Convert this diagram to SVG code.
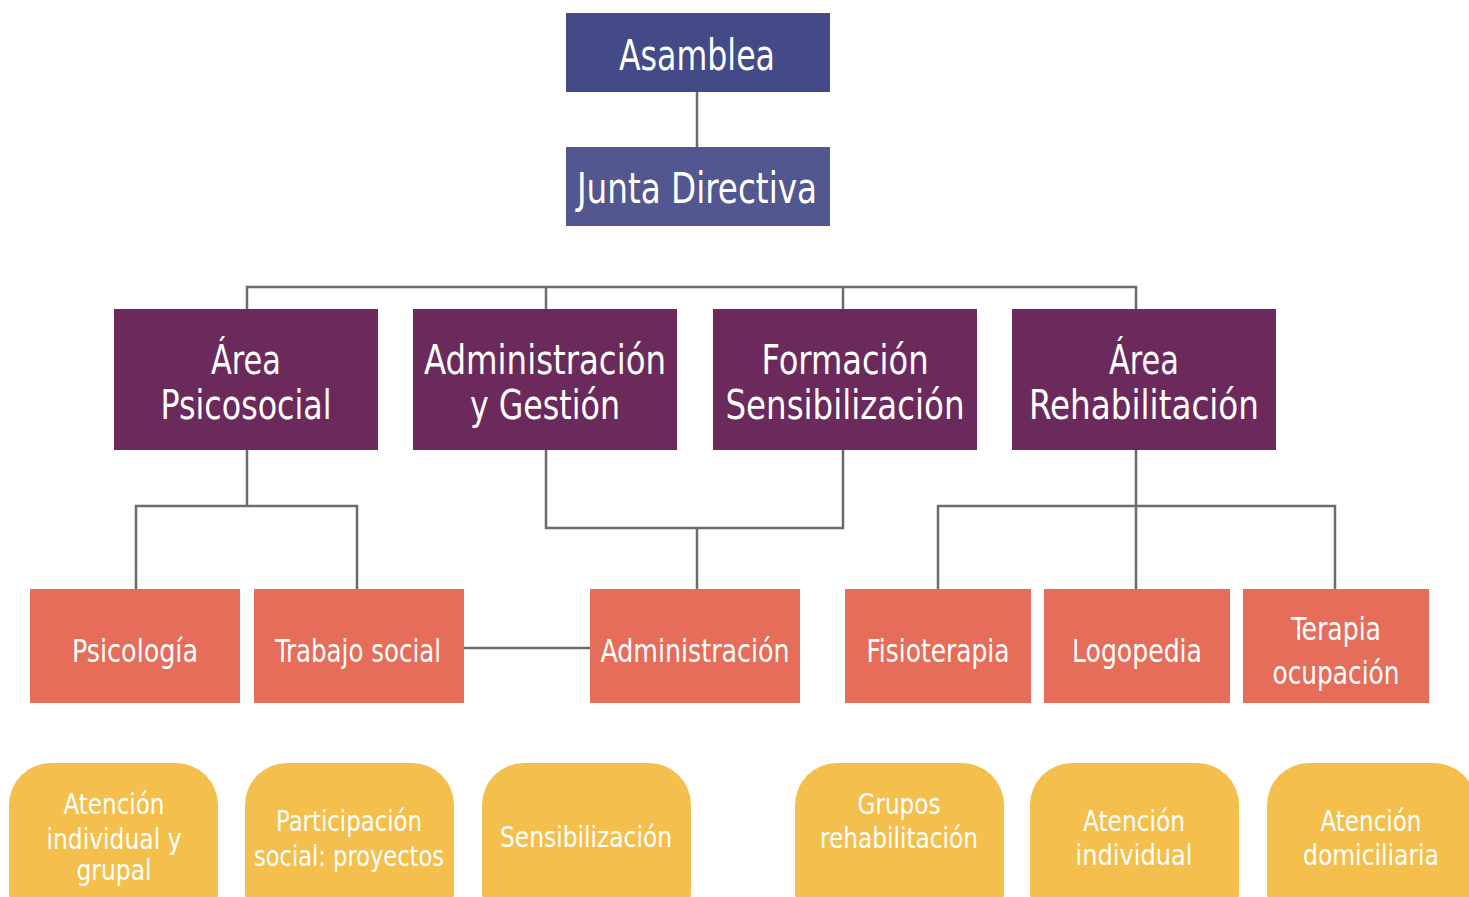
<svg xmlns="http://www.w3.org/2000/svg" width="1469" height="897" viewBox="0 0 1469 897">
<style>
text{font-family:"DejaVu Sans Condensed","DejaVu Sans","Liberation Sans",sans-serif;font-stretch:condensed;fill:#fff;text-anchor:middle}
.t1{font-size:42px}
.t2{font-size:41px}
.t3{font-size:32px}
.t4{font-size:29px}
.top{fill:#434a87}
.jd{fill:#52578f}
.area{fill:#6b2a5b}
.sub{fill:#e56d59}
.act{fill:#f4bf4c}
.ln{fill:none;stroke:#6b6b6b;stroke-width:2.5}
</style>
<g id="connectors">
<path class="ln" d="M697 92V147"/>
<path class="ln" d="M247 309V287H1136V309M546 287V309M843 287V309"/>
<path class="ln" d="M247 450V506M136 589V506H357V589"/>
<path class="ln" d="M546 450V528H843V450M697 528V589"/>
<path class="ln" d="M1136 450V589M938 589V506H1335V589"/>
<path class="ln" d="M464 648H594"/>
</g>
<g id="asamblea"><rect class="top" x="566" y="13" width="264" height="79"/><text class="t1" x="697" y="70" textLength="156" lengthAdjust="spacingAndGlyphs">Asamblea</text></g>
<g id="junta"><rect class="jd" x="566" y="147" width="264" height="79"/><text class="t1" x="697" y="203" textLength="240" lengthAdjust="spacingAndGlyphs">Junta Directiva</text></g>
<g id="area-psicosocial"><rect class="area" x="114" y="309" width="264" height="141"/><text class="t2" x="246" y="374" textLength="70" lengthAdjust="spacingAndGlyphs">Área</text><text class="t2" x="246" y="419" textLength="171" lengthAdjust="spacingAndGlyphs">Psicosocial</text></g>
<g id="admin-gestion"><rect class="area" x="413" y="309" width="264" height="141"/><text class="t2" x="545" y="374" textLength="242" lengthAdjust="spacingAndGlyphs">Administración</text><text class="t2" x="545" y="419" textLength="150" lengthAdjust="spacingAndGlyphs">y Gestión</text></g>
<g id="formacion"><rect class="area" x="713" y="309" width="264" height="141"/><text class="t2" x="845" y="374" textLength="167" lengthAdjust="spacingAndGlyphs">Formación</text><text class="t2" x="845" y="419" textLength="239" lengthAdjust="spacingAndGlyphs">Sensibilización</text></g>
<g id="area-rehab"><rect class="area" x="1012" y="309" width="264" height="141"/><text class="t2" x="1144" y="374" textLength="70" lengthAdjust="spacingAndGlyphs">Área</text><text class="t2" x="1144" y="419" textLength="230" lengthAdjust="spacingAndGlyphs">Rehabilitación</text></g>
<g id="psicologia"><rect class="sub" x="30" y="589" width="210" height="114"/><text class="t3" x="135" y="662" textLength="126" lengthAdjust="spacingAndGlyphs">Psicología</text></g>
<g id="trabajo-social"><rect class="sub" x="254" y="589" width="210" height="114"/><text class="t3" x="358" y="662" textLength="166" lengthAdjust="spacingAndGlyphs">Trabajo social</text></g>
<g id="administracion"><rect class="sub" x="590" y="589" width="210" height="114"/><text class="t3" x="695" y="662" textLength="189" lengthAdjust="spacingAndGlyphs">Administración</text></g>
<g id="fisioterapia"><rect class="sub" x="845" y="589" width="186" height="114"/><text class="t3" x="938" y="662" textLength="143" lengthAdjust="spacingAndGlyphs">Fisioterapia</text></g>
<g id="logopedia"><rect class="sub" x="1044" y="589" width="186" height="114"/><text class="t3" x="1137" y="662" textLength="130" lengthAdjust="spacingAndGlyphs">Logopedia</text></g>
<g id="terapia"><rect class="sub" x="1243" y="589" width="186" height="114"/><text class="t3" x="1336" y="640" textLength="90" lengthAdjust="spacingAndGlyphs">Terapia</text><text class="t3" x="1336" y="684" textLength="127" lengthAdjust="spacingAndGlyphs">ocupación</text></g>
<g id="atencion-ind-grupal"><rect class="act" x="9" y="763" width="209" height="170" rx="42"/><text class="t4" x="114" y="814" textLength="101" lengthAdjust="spacingAndGlyphs">Atención</text><text class="t4" x="114" y="849" textLength="135" lengthAdjust="spacingAndGlyphs">individual y</text><text class="t4" x="114" y="880" textLength="75" lengthAdjust="spacingAndGlyphs">grupal</text></g>
<g id="participacion"><rect class="act" x="245" y="763" width="209" height="170" rx="42"/><text class="t4" x="349" y="831" textLength="146" lengthAdjust="spacingAndGlyphs">Participación</text><text class="t4" x="349" y="866" textLength="190" lengthAdjust="spacingAndGlyphs">social: proyectos</text></g>
<g id="sensibilizacion"><rect class="act" x="482" y="763" width="209" height="170" rx="42"/><text class="t4" x="586" y="847" textLength="172" lengthAdjust="spacingAndGlyphs">Sensibilización</text></g>
<g id="grupos-rehab"><rect class="act" x="795" y="763" width="209" height="170" rx="42"/><text class="t4" x="899" y="814" textLength="83" lengthAdjust="spacingAndGlyphs">Grupos</text><text class="t4" x="899" y="848" textLength="158" lengthAdjust="spacingAndGlyphs">rehabilitación</text></g>
<g id="atencion-individual"><rect class="act" x="1030" y="763" width="209" height="170" rx="42"/><text class="t4" x="1134" y="831" textLength="102" lengthAdjust="spacingAndGlyphs">Atención</text><text class="t4" x="1134" y="865" textLength="117" lengthAdjust="spacingAndGlyphs">individual</text></g>
<g id="atencion-domiciliaria"><rect class="act" x="1267" y="763" width="209" height="170" rx="42"/><text class="t4" x="1371" y="831" textLength="101" lengthAdjust="spacingAndGlyphs">Atención</text><text class="t4" x="1371" y="865" textLength="136" lengthAdjust="spacingAndGlyphs">domiciliaria</text></g>
</svg>
